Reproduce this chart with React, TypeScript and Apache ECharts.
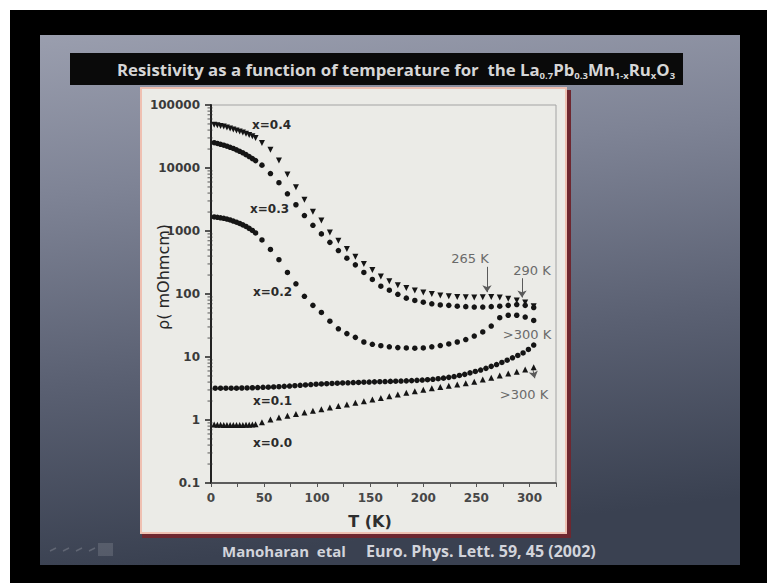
import React, { useEffect, useRef } from 'react';
import * as echarts from 'echarts';

// Temperatures (K) sampled for x = 0.4, 0.3, 0.2 and 0.0
const temps = [3, 6, 9, 12, 15, 18, 21, 24, 27, 30, 33, 36, 39, 42, 48, 56, 64, 72, 80, 88, 96, 104, 112, 120, 128, 136, 144, 152, 160, 168, 176, 184, 192, 200, 208, 216, 224, 232, 240, 248, 256, 264, 272, 280, 288, 296, 304];
// Temperatures (K) sampled for x = 0.1
const tempsX01 = [4, 9, 14, 19, 24, 29, 34, 39, 44, 49, 54, 59, 64, 69, 74, 79, 84, 89, 94, 99, 104, 109, 114, 119, 124, 129, 134, 139, 144, 149, 154, 159, 164, 169, 174, 179, 184, 189, 194, 199, 204, 209, 214, 219, 224, 229, 234, 239, 244, 249, 254, 259, 264, 269, 274, 279, 284, 289, 294, 299, 304];

// Resistivity (mOhm cm)
const rhoX04 = [48500, 47500, 46500, 45500, 44000, 42500, 41000, 39500, 38000, 36500, 35000, 33500, 32000, 30000, 25000, 19400, 13200, 7900, 4960, 3130, 2030, 1470, 950, 700, 520, 390, 300, 240, 190, 160, 138, 125, 114, 106, 100, 95, 92, 90, 89, 88, 89, 90, 88, 84, 79, 73, 64];
const rhoX03 = [25200, 24500, 23800, 23000, 22200, 21300, 20400, 19400, 18400, 17400, 16300, 15200, 14100, 13100, 11100, 8170, 5840, 3900, 2610, 1760, 1230, 900, 660, 490, 370, 290, 220, 170, 133, 115, 99, 86, 79, 74, 70, 67, 66, 64, 63, 62, 62, 63, 64, 66, 68, 66, 61];
const rhoX02 = [1670, 1650, 1620, 1590, 1550, 1500, 1440, 1380, 1320, 1250, 1180, 1100, 1020, 930, 720, 510, 350, 220, 145, 92, 66, 51, 37, 28, 23.5, 20.5, 17.3, 15.9, 15.1, 14.5, 14.1, 13.9, 13.8, 13.9, 14.5, 15.2, 16.1, 17.3, 18.9, 21.5, 25, 31, 42, 46, 46, 43, 38];
const rhoX01 = [3.2, 3.2, 3.2, 3.2, 3.2, 3.22, 3.23, 3.25, 3.27, 3.3, 3.32, 3.35, 3.38, 3.42, 3.46, 3.5, 3.55, 3.6, 3.65, 3.7, 3.73, 3.77, 3.8, 3.84, 3.87, 3.9, 3.93, 3.95, 3.98, 4.0, 4.03, 4.05, 4.08, 4.1, 4.13, 4.15, 4.18, 4.22, 4.26, 4.3, 4.36, 4.43, 4.52, 4.62, 4.75, 4.9, 5.1, 5.3, 5.6, 5.9, 6.2, 6.6, 7.1, 7.6, 8.2, 8.9, 9.7, 10.6, 11.6, 13.2, 15.5];
const rhoX00 = [0.85, 0.84, 0.84, 0.83, 0.83, 0.83, 0.83, 0.83, 0.83, 0.83, 0.84, 0.84, 0.85, 0.86, 0.92, 1.02, 1.1, 1.17, 1.24, 1.32, 1.4, 1.48, 1.58, 1.67, 1.77, 1.87, 1.98, 2.11, 2.24, 2.38, 2.54, 2.7, 2.86, 3.02, 3.18, 3.34, 3.5, 3.66, 3.82, 4.05, 4.38, 4.7, 5.1, 5.45, 5.85, 6.35, 6.9];

const curveNames = ['x=0.4', 'x=0.3', 'x=0.2', 'x=0.1', 'x=0.0'];
const yTickLabels = ['0.1', '1', '10', '100', '1000', '10000', '100000'];
const minorDecades = [0.1, 1, 10, 100, 1000, 10000];
const minorSteps = [2, 3, 4, 5, 6, 7, 8, 9];

// Arrow annotations: [T, rho from] -> [T, rho to]
const arrows = [
  [[260, 270], [260, 107]],
  [[293, 178], [293, 88]],
  [[303, 6.6], [305, 4.6]],
];

const pair = (t: number[], r: number[]) => t.map((x, i) => [x, r[i]]);

const INK = '#151515';
const LABEL_FONT = '"DejaVu Sans", sans-serif';
const SLIDE_FONT = '"Open Sans", sans-serif';

function buildOption(): echarts.EChartsOption {
  const minorTicks: number[][] = [];
  minorDecades.forEach((d) => minorSteps.forEach((m) => minorTicks.push([0, +(d * m).toPrecision(3)])));

  const scatter = (name: string, data: number[][], symbol: string, size: number, rotate = 0, extra: any = {}) => ({
    type: 'scatter',
    name,
    data,
    symbol,
    symbolSize: size,
    symbolRotate: rotate,
    itemStyle: { color: INK, opacity: 1 },
    z: 5,
    silent: true,
    ...extra,
  });

  return {
    animation: false,
    backgroundColor: '#000000',
    grid: {
      show: true,
      left: 201,
      top: 95,
      width: 345,
      height: 378,
      borderColor: '#a3a3a3',
      borderWidth: 1,
      backgroundColor: 'transparent',
      z: 3,
    },
    xAxis: {
      type: 'value',
      min: 0,
      max: 325,
      interval: 25,
      z: 4,
      axisLine: { show: true, lineStyle: { color: '#3a3a3a', width: 1.5 } },
      axisTick: { show: true, length: 4, lineStyle: { color: '#555', width: 1 } },
      axisLabel: {
        formatter: (v: number) => (v % 50 === 0 ? String(v) : ''),
        fontFamily: LABEL_FONT,
        fontWeight: 'bold',
        fontSize: 12,
        color: '#474747',
        margin: 9,
      },
      splitLine: { show: false },
    },
    yAxis: {
      type: 'log',
      logBase: 10,
      min: 0.1,
      max: 100000,
      splitNumber: 6,
      z: 4,
      axisLine: { show: true, lineStyle: { color: '#222', width: 2 } },
      axisTick: { show: true, length: 6, lineStyle: { color: '#222', width: 1.5 } },
      axisLabel: {
        formatter: (v: number) => yTickLabels[Math.round(Math.log10(v)) + 1] ?? '',
        fontFamily: LABEL_FONT,
        fontWeight: 'bold',
        fontSize: 12,
        color: '#3a3a3a',
        margin: 11,
      },
      splitLine: { show: false },
    },
    series: [
      scatter(curveNames[0], pair(temps, rhoX04), 'triangle', 6, 180, {
        markLine: {
          silent: true,
          symbol: ['none', 'arrow'],
          symbolSize: 7,
          label: { show: false },
          lineStyle: { color: '#5a5a5a', width: 1, type: 'solid' },
          data: arrows.map(([a, b]) => [{ coord: a }, { coord: b }]),
        },
      }),
      scatter(curveNames[1], pair(temps, rhoX03), 'circle', 5.5),
      scatter(curveNames[2], pair(temps, rhoX02), 'circle', 5.5),
      scatter(curveNames[3], pair(tempsX01, rhoX01), 'circle', 5.5),
      scatter(curveNames[4], pair(temps, rhoX00), 'triangle', 6),
      {
        type: 'scatter',
        name: 'minor ticks',
        data: minorTicks,
        symbol: 'rect',
        symbolSize: [5, 1],
        symbolOffset: [-1, 0],
        clip: false,
        silent: true,
        itemStyle: { color: '#333' },
        z: 4,
      },
    ],
    graphic: [
      // slide background
      {
        type: 'rect',
        z: -100,
        shape: { x: 30, y: 25, width: 700, height: 530 },
        style: {
          fill: {
            type: 'linear', x: 0, y: 0, x2: 0.15, y2: 1,
            colorStops: [
              { offset: 0, color: '#9a9eae' },
              { offset: 0.3, color: '#7e8395' },
              { offset: 0.65, color: '#5a6072' },
              { offset: 1, color: '#3a4151' },
            ],
          } as any,
        },
      },
      // title bar
      { type: 'rect', z: -90, shape: { x: 60, y: 43, width: 613, height: 32 }, style: { fill: '#0a0a0a' } },
      {
        type: 'text',
        z: 100,
        x: 107,
        y: 59,
        style: {
          text: '{b|Resistivity as a function of temperature for  the La}{s|0.7}{b|Pb}{s|0.3}{b|Mn}{s|1-x}{b|Ru}{s|x}{b|O}{s|3}',
          verticalAlign: 'middle',
          align: 'left',
          rich: {
            b: { fontFamily: SLIDE_FONT, fontWeight: 'bold', fontSize: 16.8, fill: '#d6d6d6', lineHeight: 22 } as any,
            s: { fontFamily: SLIDE_FONT, fontWeight: 'bold', fontSize: 9.5, fill: '#d6d6d6', lineHeight: 9, verticalAlign: 'bottom' } as any,
          },
        } as any,
      },
      // chart panel with coloured frame
      { type: 'rect', z: -80, shape: { x: 132, y: 80, width: 429, height: 448 }, style: { fill: '#6e2730' } },
      { type: 'rect', z: -79, shape: { x: 130, y: 77, width: 427, height: 447 }, style: { fill: '#efc0b2' } },
      { type: 'rect', z: -78, shape: { x: 132, y: 79, width: 423, height: 443 }, style: { fill: '#ebebe7' } },
      // curve labels
      ...[[242, 115], [240, 199], [243, 282], [243, 391], [243, 433]].map(([x, y], i) => ({
        type: 'text', z: 100, x, y,
        style: { text: curveNames[i], font: `bold 12px ${LABEL_FONT}`, fill: '#2a2a2a', verticalAlign: 'middle', align: 'left' },
      })),
      // transition temperature labels
      ...[['265 K', 460, 248], ['290 K', 522, 260], ['>300 K', 517, 324], ['>300 K', 514, 384]].map(([t, x, y]) => ({
        type: 'text', z: 100, x, y,
        style: { text: t, font: `13px ${LABEL_FONT}`, fill: '#6a6a6a', verticalAlign: 'middle', align: 'center' },
      })),
      // axis titles
      {
        type: 'text', z: 100, x: 153, y: 267, rotation: Math.PI / 2,
        style: { text: 'ρ( mOhmcm)', font: `16px ${LABEL_FONT}`, fill: '#262626', align: 'center', verticalAlign: 'middle' },
      },
      {
        type: 'text', z: 100, x: 360, y: 511,
        style: { text: 'T (K)', font: `bold 16px ${LABEL_FONT}`, fill: '#2e2e2e', align: 'center', verticalAlign: 'middle' },
      },
      // footer reference
      {
        type: 'text', z: 100, x: 212, y: 541,
        style: { text: 'Manoharan  etal', font: `bold 15px ${SLIDE_FONT}`, fill: '#d2d4db', verticalAlign: 'middle', align: 'left' },
      },
      {
        type: 'text', z: 100, x: 356, y: 541,
        style: { text: 'Euro. Phys. Lett. 59, 45 (2002)', font: `bold 16px ${SLIDE_FONT}`, fill: '#d2d4db', verticalAlign: 'middle', align: 'left' },
      },
      // slide navigation widget
      { type: 'rect', z: -70, shape: { x: 88, y: 533, width: 15, height: 13 }, style: { fill: 'rgba(255,255,255,0.13)' } },
      ...[40, 53, 66, 79].map((x) => ({
        type: 'line', z: -70, shape: { x1: x, y1: 541, x2: x + 6, y2: 538 },
        style: { stroke: 'rgba(255,255,255,0.18)', lineWidth: 1.5 },
      })),
    ] as any,
  };
}

export default function App() {
  const ref = useRef<HTMLDivElement>(null);
  useEffect(() => {
    if (!ref.current) return;
    const chart = echarts.init(ref.current, null, { renderer: 'svg' });
    chart.setOption(buildOption());
    return () => chart.dispose();
  }, []);
  return (
    <div style={{ position: 'fixed', left: 10, top: 10, width: 757, height: 573, background: '#000' }}>
      <div ref={ref} style={{ width: 757, height: 573 }} />
    </div>
  );
}
